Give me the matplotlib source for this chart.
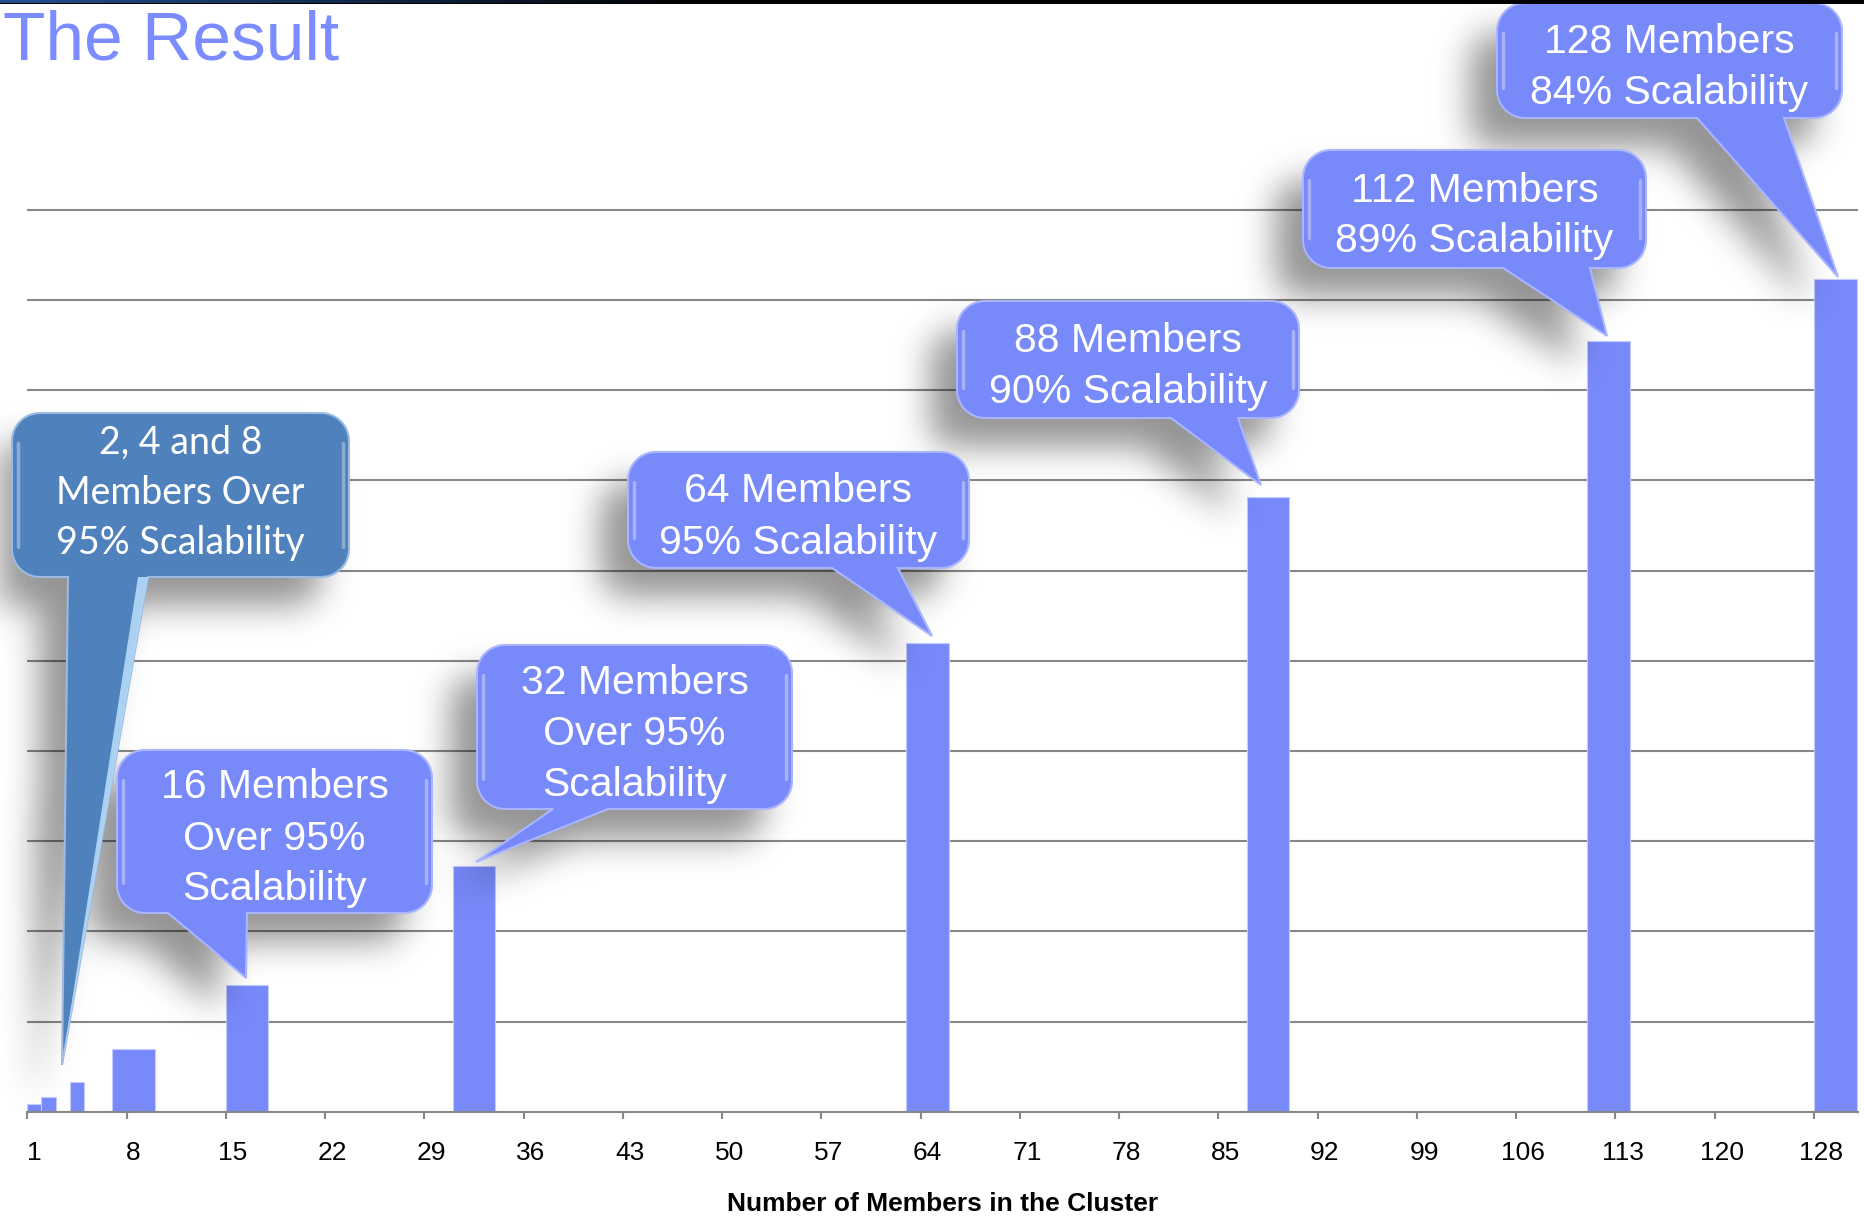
import numpy as np
import matplotlib
matplotlib.use("Agg")
import matplotlib.pyplot as plt
from matplotlib.path import Path
from matplotlib.patches import PathPatch, Rectangle, Polygon
from matplotlib.colors import LinearSegmentedColormap

# ---------------- data ----------------
members = [1, 2, 4, 8, 16, 32, 64, 88, 112, 128]
throughput = [0.82, 1.6, 3.27, 7.0, 14.0, 27.2, 52.0, 68.1, 85.4, 92.3]
tick_labels = ["1", "8", "15", "22", "29", "36", "43", "50", "57", "64", "71",
               "78", "85", "92", "99", "106", "113", "120", "128"]
callout_texts = [
    ["2, 4 and 8", "Members Over", "95% Scalability"],
    ["16 Members", "Over 95%", "Scalability"],
    ["32 Members", "Over 95%", "Scalability"],
    ["64 Members", "95% Scalability"],
    ["88 Members", "90% Scalability"],
    ["112 Members", "89% Scalability"],
    ["128 Members", "84% Scalability"],
]
title = "The Result"
xlabel = "Number of Members in the Cluster"

# ---------------- layout (pixels, y down) ----------------
W, H = 1864, 1218
BAR = "#7889FA"
GRID = "#878787"
FONT = "Liberation Sans"

# box (x0, y0, x1, y1), pointer base (bx0, bx1), tip (tx, ty)
boxes = [(12, 413, 349, 577), (117, 750, 432, 913), (477, 645, 792, 809),
         (628, 452, 969, 568), (957, 301, 1299, 418), (1303, 150, 1646, 268),
         (1497, 3, 1842, 118)]
bases = [(68, 148), (168, 247), (553, 608), (832, 898), (1171, 1238),
         (1503, 1590), (1697, 1784)]
tips = [(62, 1065), (246, 978), (476, 862), (932, 636), (1261, 485),
        (1607, 336), (1838, 277)]

fig = plt.figure(figsize=(W / 100, H / 100), dpi=100)
fig.patch.set_facecolor("white")

# ---------------- main chart ----------------
px_unit = 14.18
x_left, x_right = 27.3, 1858.0
y_base, px_per_val = 1111.7, 9.02
ymax = 101
ax = fig.add_axes([x_left / W, 1 - y_base / H, (x_right - x_left) / W,
                   ymax * px_per_val / H])
ax.set_xlim(0.5, 0.5 + (x_right - x_left) / px_unit)
ax.set_ylim(0, ymax)

widths = [1 if m < 8 else 3 for m in members]
ax.bar(members, throughput, width=widths, color=BAR, edgecolor="#c3cbff",
       linewidth=0.8, zorder=2)

ax.set_yticks(np.arange(10, 101, 10))
ax.yaxis.grid(True, color=GRID, linewidth=1.5)
ax.set_axisbelow(True)
ax.tick_params(axis="y", left=False, labelleft=False)
for s in ["top", "left", "right"]:
    ax.spines[s].set_visible(False)
ax.spines["bottom"].set_color(GRID)
ax.spines["bottom"].set_linewidth(1.5)

major = np.arange(0.5, 127, 7)
ax.set_xticks(major)
ax.set_xticklabels([])
ax.set_xticks(major + 0.5, minor=True)
ax.set_xticklabels(tick_labels, minor=True, fontsize=19, family=FONT)
ax.tick_params(axis="x", which="major", length=5, width=1.5, color=GRID,
               direction="out")
ax.tick_params(axis="x", which="minor", length=0, pad=21)

# ---------------- overlay (callouts, titles) ----------------
ov = fig.add_axes([0, 0, 1, 1], zorder=5)
ov.set_xlim(0, W)
ov.set_ylim(H, 0)
ov.axis("off")
ov.patch.set_alpha(0)


def callout_path(box, base, tip, r=28, n=14):
    x0, y0, x1, y1 = box
    verts = []

    def arc(cx, cy, a0, a1):
        t = np.radians(np.linspace(a0, a1, n))
        return [(cx + r * np.cos(a), cy + r * np.sin(a)) for a in t]

    verts += [(x0 + r, y0), (x1 - r, y0)]
    verts += arc(x1 - r, y0 + r, -90, 0)
    verts += arc(x1 - r, y1 - r, 0, 90)
    verts += [(base[1], y1), tip, (base[0], y1)]
    verts += arc(x0 + r, y1 - r, 90, 180)
    verts += arc(x0 + r, y0 + r, 180, 270)
    verts.append(verts[0])
    codes = [Path.MOVETO] + [Path.LINETO] * (len(verts) - 2) + [Path.CLOSEPOLY]
    return Path(verts, codes)


paths = [callout_path(b, bs, t) for b, bs, t in zip(boxes, bases, tips)]

# soft drop shadow raster
ds = 3
gy, gx = np.mgrid[0:H:ds, 0:W:ds]
pts = np.column_stack([gx.ravel() + ds / 2, gy.ravel() + ds / 2])
mask = np.zeros(gx.shape)
sdx, sdy = -28, 30
for p in paths:
    sp = Path(p.vertices + np.array([sdx, sdy]), p.codes)
    mask = np.maximum(mask, sp.contains_points(pts).reshape(gx.shape))


def blur(img, sigma):
    rad = int(3 * sigma) + 1
    x = np.arange(-rad, rad + 1)
    k = np.exp(-x ** 2 / (2 * sigma ** 2))
    k /= k.sum()
    img = np.apply_along_axis(lambda m: np.convolve(m, k, mode="same"), 0, img)
    img = np.apply_along_axis(lambda m: np.convolve(m, k, mode="same"), 1, img)
    return img


sh = blur(mask, 17 / ds)
rgba = np.zeros(sh.shape + (4,))
rgba[..., 3] = np.clip(sh, 0, 1) * 0.42
ov.imshow(rgba, extent=(0, gx.shape[1] * ds, gy.shape[0] * ds, 0),
          interpolation="bilinear", aspect="auto", zorder=1)

for i, (p, box, texts) in enumerate(zip(paths, boxes, callout_texts)):
    first = i == 0
    face = "#4F81BD" if first else BAR
    edge = "#9cbbe3" if first else "#aab5ff"
    ov.add_patch(PathPatch(p, facecolor=face, edgecolor=edge, linewidth=1.5,
                           zorder=2))
    x0, y0, x1, y1 = box
    # glossy inner highlights
    for xx in (x0 + 6, x1 - 6):
        ov.plot([xx, xx], [y0 + 30, y1 - 30], color="white", alpha=0.35,
                lw=2.5, solid_capstyle="round", zorder=3)
    if first:
        bx1 = bases[0][1]
        ov.add_patch(Polygon([(bx1 - 10, y1), (bx1, y1), tips[0]],
                             closed=True, facecolor="#b5dbf7", edgecolor="none",
                             alpha=0.9, zorder=3))
    cx = (x0 + x1) / 2
    n = len(texts)
    if first:
        spacing, cap, fam, fs, cy = 50, 12, ["Lato", "DejaVu Sans"], 27, 492
    else:
        spacing, cap, fam, fs, cy = 51, 14, [FONT], 29.5, (y0 + y1) / 2 + 4
    for j, line in enumerate(texts):
        yb = cy + (j - (n - 1) / 2) * spacing + cap
        ov.text(cx, yb, line, ha="center", va="baseline", color="white",
                fontsize=fs, family=fam, zorder=4)

# top dark band
ov.add_patch(Rectangle((0, 0), W, 3.5, facecolor="black", edgecolor="none",
                       zorder=6))
cm = LinearSegmentedColormap.from_list("band", ["#24508f", "#000000"])
ov.imshow(np.linspace(0, 1, 256)[None, :], cmap=cm, extent=(0, 700, 3.5, 0),
          aspect="auto", zorder=7)
ov.set_xlim(0, W)
ov.set_ylim(H, 0)

ov.text(3, 60, title, ha="left", va="baseline", fontsize=50,
        color="#7A8CFF", family=FONT)
ov.text(943, 1211, xlabel, ha="center", va="baseline", fontsize=19,
        fontweight="bold", family=FONT)

fig.savefig("out.png", dpi=100)
